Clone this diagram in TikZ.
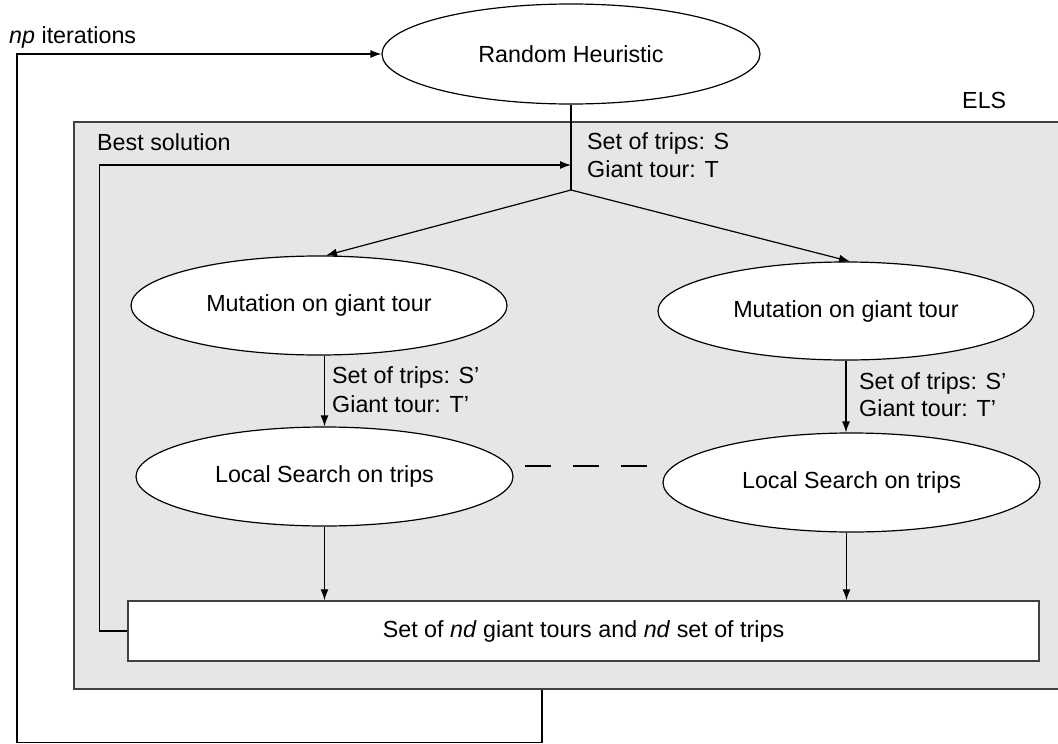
\documentclass[tikz,border=0pt]{standalone}
\usepackage{fontspec}
\setmainfont{Liberation Sans}
\usetikzlibrary{arrows.meta,shapes.geometric,calc}
\definecolor{elsfill}{RGB}{230,230,230}
\definecolor{elsline}{RGB}{64,64,64}
\begin{document}
\begin{tikzpicture}[x=1pt,y=-1pt,
  every node/.style={font=\fontsize{23.3}{28}\selectfont},
  oval/.style={ellipse, draw=black, line width=1.2pt, fill=white, inner sep=0pt},
  conn/.style={line width=1.2pt, -{Latex[length=11pt,width=8pt]}},
  plain/.style={line width=1.2pt},
  lbl/.style={anchor=base west, inner sep=0pt}]
\useasboundingbox (0,0) rectangle (1058,744);
% ELS container
\node[draw=elsline, fill=elsfill, line width=1.5pt, inner sep=0pt,
      minimum width=992pt, minimum height=567pt, anchor=north west] (els) at (73,121) {};
\node[lbl] (elst) at (962,108) {ELS};
% main nodes
\node[oval, minimum width=378pt, minimum height=100pt] (rh) at (571,54) {Random Heuristic};
\node[oval, minimum width=376pt, minimum height=99pt] (m1) at (319,305.5) {Mutation on giant tour};
\node[oval, minimum width=376pt, minimum height=98pt] (m2) at (846,311) {Mutation on giant tour};
\node[oval, minimum width=377pt, minimum height=99pt] (l1) at (324.5,476.5) {Local Search on trips};
\node[oval, minimum width=377pt, minimum height=99pt] (l2) at (851.5,482.5) {Local Search on trips};
\node[draw=elsline, fill=white, line width=1.5pt, inner sep=0pt,
      minimum width=911pt, minimum height=60pt] (box) at (583.5,631)
      {Set of \textit{nd} giant tours and \textit{nd} set of trips};
% labels
\node[lbl] (np) at (9,43) {\textit{np} iterations};
\node[lbl] (best) at (97,150) {Best solution};
\node[lbl] (s0a) at (587,149) {Set of trips: S};
\node[lbl] (s0b) at (587,177) {Giant tour: T};
\node[lbl] (s1a) at (332,383) {Set of trips: S’};
\node[lbl] (s1b) at (332,412) {Giant tour: T’};
\node[lbl] (s2a) at (859,389) {Set of trips: S’};
\node[lbl] (s2b) at (859,416) {Giant tour: T’};
% coordinates
\coordinate (split) at (571,190);
\coordinate (join) at (571,165);
\coordinate (outx) at (542,0);
\coordinate (ob1) at (542,742.5);
\coordinate (ob2) at (17,742.5);
\coordinate (dA) at (525,466);
\coordinate (dB) at (647,466);
% connectors
\draw[plain] (rh.south) -- (split);
\draw[conn] (split) -- ([xshift=7pt]m1.north);
\draw[conn] (split) -- ([xshift=4pt]m2.north);
\draw[conn] (l1.north |- m1.south) -- (l1.north);
\draw[conn] (m2.south) -- (m2.south |- l2.north);
\draw[conn] (l1.south) -- (l1.south |- box.north);
\draw[conn] ([xshift=-5pt]l2.south) -- ([xshift=-5pt]l2.south |- box.north);
\draw[plain, dash pattern=on 26pt off 22pt] (dA) -- (dB);
\draw[conn] (box.west) -- ++(-28,0) |- (join);
\draw[conn] (els.south -| outx) -- (ob1) -- (ob2) |- (rh.west);
\end{tikzpicture}
\end{document}
